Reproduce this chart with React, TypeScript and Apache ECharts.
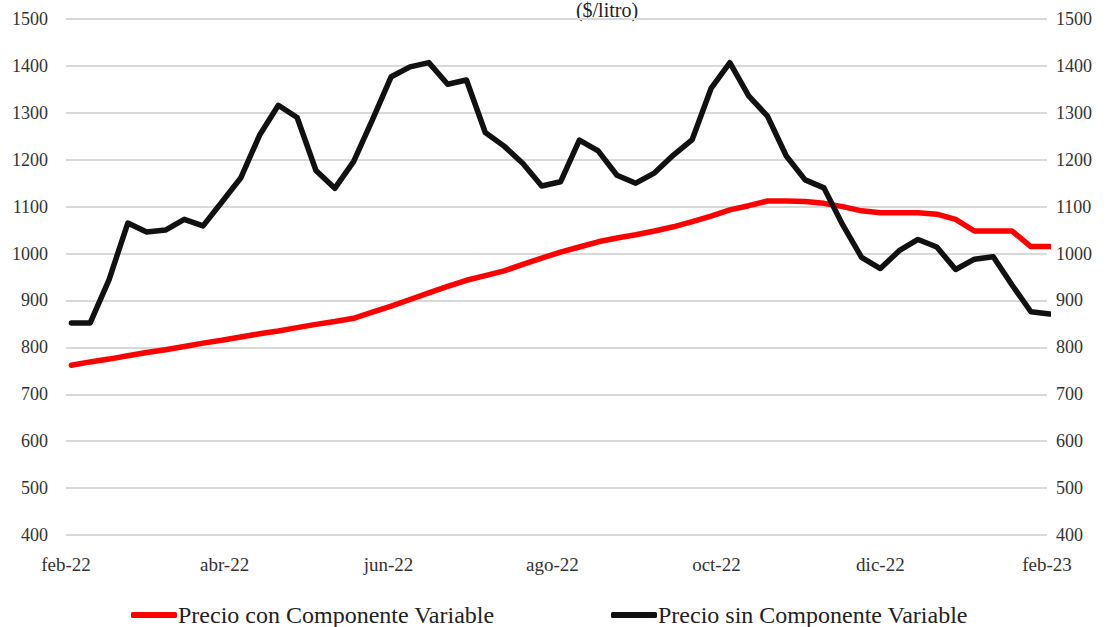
import React, { useEffect, useRef } from "react";
import * as echarts from "echarts";

const dates = [
  "2022-02-03", "2022-02-10", "2022-02-17", "2022-02-24",
  "2022-03-03", "2022-03-10", "2022-03-17", "2022-03-24", "2022-03-31",
  "2022-04-07", "2022-04-14", "2022-04-21", "2022-04-28",
  "2022-05-05", "2022-05-12", "2022-05-19", "2022-05-26",
  "2022-06-02", "2022-06-09", "2022-06-16", "2022-06-23", "2022-06-30",
  "2022-07-07", "2022-07-14", "2022-07-21", "2022-07-28",
  "2022-08-04", "2022-08-11", "2022-08-18", "2022-08-25",
  "2022-09-01", "2022-09-08", "2022-09-15", "2022-09-22", "2022-09-29",
  "2022-10-06", "2022-10-13", "2022-10-20", "2022-10-27",
  "2022-11-03", "2022-11-10", "2022-11-17", "2022-11-24",
  "2022-12-01", "2022-12-08", "2022-12-15", "2022-12-22", "2022-12-29",
  "2023-01-05", "2023-01-12", "2023-01-19", "2023-01-26",
  "2023-02-02",
];

const precioCon = [
  762, 769, 775, 782, 789, 795, 802, 809, 815, 822,
  829, 835, 842, 849, 855, 862, 875, 888, 902, 916,
  930, 943, 953, 963, 977, 990, 1003, 1014, 1025, 1033,
  1040, 1048, 1057, 1068, 1080, 1093, 1102, 1112, 1112, 1111,
  1107, 1100, 1091, 1087, 1087, 1087, 1084, 1073, 1048, 1048,
  1048, 1015, 1015,
];

const precioSin = [
  852, 852, 944, 1065, 1046, 1050, 1073, 1059, 1110, 1161,
  1252, 1316, 1290, 1177, 1139, 1196, 1285, 1377, 1398, 1407,
  1361, 1370, 1258, 1229, 1192, 1144, 1153, 1242, 1219, 1167,
  1150, 1172, 1210, 1243, 1352, 1407, 1336, 1293, 1208, 1157,
  1140, 1061, 992, 968, 1006, 1030, 1014, 966, 988, 993,
  933, 876, 871,
];

const tickDates = ["2022-02-01", "2022-04-01", "2022-06-01", "2022-08-01", "2022-10-01", "2022-12-01", "2023-02-01"];
const tickLabels = ["feb-22", "abr-22", "jun-22", "ago-22", "oct-22", "dic-22", "feb-23"];

const seriesNames = ["Precio con Componente Variable", "Precio sin Componente Variable"];
const titleText = "($/litro)";

const toMs = (d: string) => {
  const [y, m, dd] = d.split("-").map(Number);
  return Date.UTC(y, m - 1, dd);
};

const FONT = "Liberation Serif";

export default function App() {
  const ref = useRef<HTMLDivElement>(null);
  useEffect(() => {
    document.body.style.margin = "0";
    if (!ref.current) return;
    const chart = echarts.init(ref.current, undefined, { renderer: "svg" });
    const tickMs = tickDates.map(toMs);
    const yAxisCommon = {
      type: "value" as const,
      min: 400,
      max: 1500,
      interval: 100,
      axisLine: { show: false },
      axisTick: { show: false },
    };
    const yLabel = (margin: number) => ({
      margin,
      fontFamily: FONT,
      fontSize: 18,
      color: "#333",
      formatter: (v: number) => String(v),
    });
    chart.setOption({
      animation: false,
      backgroundColor: "#ffffff",
      textStyle: { fontFamily: FONT },
      grid: { left: 66, right: 68, top: 19, bottom: 92, containLabel: false },
      graphic: [
        {
          type: "text",
          x: 607,
          y: 0,
          style: {
            text: titleText,
            fontFamily: FONT,
            fontSize: 20,
            fill: "#222",
            textAlign: "center",
            textVerticalAlign: "top",
          },
        },
      ],
      legend: [
        {
          data: [seriesNames[0]],
          left: 126,
          top: 598,
          icon: "roundRect",
          itemWidth: 46,
          itemHeight: 6,
          itemGap: 0,
          textStyle: { fontFamily: FONT, fontSize: 24, color: "#222", padding: [0, 0, 0, -4] },
        },
        {
          data: [seriesNames[1]],
          left: 606,
          top: 598,
          icon: "roundRect",
          itemWidth: 46,
          itemHeight: 6,
          itemGap: 0,
          textStyle: { fontFamily: FONT, fontSize: 24, color: "#222", padding: [0, 0, 0, -4] },
        },
      ],
      xAxis: {
        type: "value",
        min: tickMs[0],
        max: tickMs[tickMs.length - 1],
        axisLine: { show: false },
        axisTick: { show: false },
        splitLine: { show: false },
        axisLabel: {
          customValues: tickMs,
          margin: 20,
          fontFamily: FONT,
          fontSize: 19,
          color: "#333",
          formatter: (v: number) => {
            const i = tickMs.indexOf(v);
            return i >= 0 ? tickLabels[i] : "";
          },
        },
      },
      yAxis: [
        {
          ...yAxisCommon,
          position: "left",
          splitLine: { show: true, lineStyle: { color: "#d9d9d9", width: 2 } },
          axisLabel: yLabel(18),
        },
        {
          ...yAxisCommon,
          position: "right",
          splitLine: { show: false },
          axisLabel: yLabel(9),
        },
      ],
      series: [
        {
          name: seriesNames[0],
          type: "line",
          yAxisIndex: 0,
          showSymbol: false,
          symbol: "none",
          clip: false,
          color: "#ff0000",
          lineStyle: { color: "#ff0000", width: 5.5, cap: "round", join: "round" },
          data: dates.map((d, i) => [toMs(d), precioCon[i]]),
        },
        {
          name: seriesNames[1],
          type: "line",
          yAxisIndex: 0,
          showSymbol: false,
          symbol: "none",
          clip: false,
          color: "#111111",
          lineStyle: { color: "#111111", width: 5.5, cap: "round", join: "round" },
          data: dates.map((d, i) => [toMs(d), precioSin[i]]),
        },
      ],
    });
    return () => chart.dispose();
  }, []);
  return (
    <div style={{ position: "absolute", left: 0, top: 0, width: 1115, height: 627, background: "#fff" }}>
      <div ref={ref} style={{ width: 1115, height: 627 }} />
    </div>
  );
}
